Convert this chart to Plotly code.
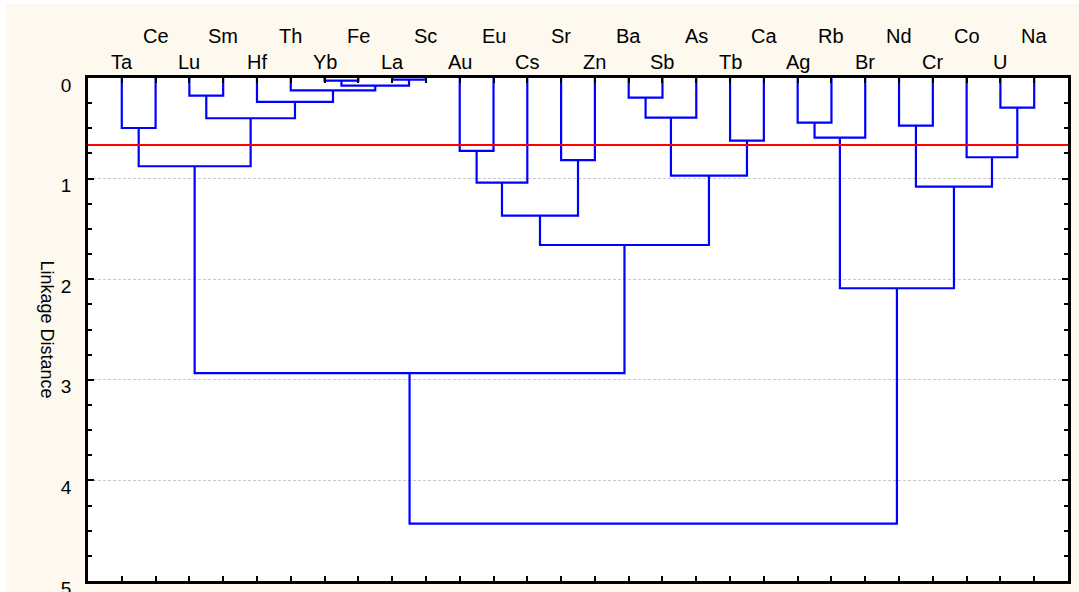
import plotly.graph_objects as go

# ---------------- data ----------------
LEAVES = ["Ta", "Ce", "Lu", "Sm", "Hf", "Th", "Yb", "Fe", "La", "Sc",
          "Au", "Eu", "Cs", "Sr", "Zn", "Ba", "Sb", "As", "Tb", "Ca",
          "Ag", "Rb", "Br", "Nd", "Cr", "Co", "U", "Na"]

# linkage (scipy-like ids: leaves 0..27, merge k gets id 28+k)
MERGE_A = [8, 6, 29, 5, 2, 15, 4, 26, 33, 32, 20, 23, 0, 38, 18, 10, 25, 13,
           40, 36, 43, 39, 48, 50, 41, 46, 53]
MERGE_B = [9, 7, 28, 30, 3, 16, 31, 27, 17, 34, 21, 24, 1, 22, 19, 11, 35, 14,
           37, 42, 12, 44, 45, 47, 49, 51, 52]
MERGE_H = [0.017, 0.026, 0.076, 0.123, 0.175, 0.195, 0.238, 0.295, 0.394, 0.400,
           0.444, 0.474, 0.497, 0.592, 0.622, 0.724, 0.788, 0.816, 0.877, 0.970,
           1.040, 1.080, 1.368, 1.660, 2.090, 2.933, 4.430]

CUTOFF = 0.667
Y_TICKS = [0, 1, 2, 3, 4, 5]
Y_TITLE = "Linkage Distance"

# ---------------- style ----------------
FONT = "Liberation Sans, Arial, sans-serif"
CREAM = "#FDF9EE"
W, H = 1079, 592
ML, MR, MT, MB = 88, 11, 78, 11

n = len(LEAVES)
pos = {i: i + 1 for i in range(n)}
hgt = {i: 0.0 for i in range(n)}
xs, ys = [], []
for k, (a, b, h) in enumerate(zip(MERGE_A, MERGE_B, MERGE_H)):
    xa, xb = pos[a], pos[b]
    xs += [xa, xa, xb, xb, None]
    ys += [hgt[a], h, h, hgt[b], None]
    pos[n + k] = (xa + xb) / 2
    hgt[n + k] = h

fig = go.Figure()
fig.add_trace(go.Scatter(x=xs, y=ys, mode="lines",
                         line=dict(color="#0000FF", width=2.2),
                         hoverinfo="skip", showlegend=False))

plot_h = H - MT - MB
plot_w = W - ML - MR

def py(pix):
    return (H - MB - pix) / plot_h

def px(pix):
    return (pix - ML) / plot_w

annotations = []
for i, name in enumerate(LEAVES):
    yy = py(35.7) if i % 2 == 1 else py(61.7)
    annotations.append(dict(x=i + 1, xref="x", y=yy, yref="paper", text=name,
                            showarrow=False, xanchor="center", yanchor="middle",
                            font=dict(family=FONT, size=20, color="#000000")))
annotations.append(dict(x=px(47), xref="paper", y=0.5, yref="paper", text=Y_TITLE,
                        textangle=90, showarrow=False, xanchor="center",
                        yanchor="middle",
                        font=dict(family=FONT, size=18, color="#000000")))

shapes = [
    dict(type="rect", xref="paper", yref="paper", layer="below",
         x0=px(6), x1=px(W + 20), y0=py(H + 20), y1=py(4),
         fillcolor=CREAM, line=dict(width=0)),
    dict(type="rect", xref="x domain", yref="y domain", layer="below",
         x0=0, x1=1, y0=0, y1=1, fillcolor="#FFFFFF", line=dict(width=0)),
    dict(type="line", xref="x domain", yref="y", x0=0, x1=1,
         y0=CUTOFF, y1=CUTOFF, line=dict(color="#FF0000", width=2)),
]

fig.update_layout(
    width=W, height=H,
    margin=dict(l=ML, r=MR, t=MT, b=MB, pad=0, autoexpand=False),
    paper_bgcolor="#FFFFFF", plot_bgcolor="#FFFFFF",
    showlegend=False,
    annotations=annotations,
    shapes=shapes,
    xaxis=dict(range=[0, n + 1], tickvals=list(range(1, n + 1)),
               ticks="inside", ticklen=5, tickwidth=2, tickcolor="#000000",
               showticklabels=False, showgrid=False, zeroline=False,
               showline=True, linecolor="#000000", linewidth=2.5,
               mirror="allticks", fixedrange=True, automargin=False),
    yaxis=dict(range=[Y_TICKS[-1], Y_TICKS[0]], tickvals=Y_TICKS,
               ticks="inside", ticklen=6, tickwidth=2, tickcolor="#000000",
               minor=dict(dtick=0.25, ticks="inside", ticklen=4, tickwidth=2,
                          tickcolor="#000000", showgrid=False),
               showgrid=True, gridcolor="#C8C8C8", gridwidth=1, griddash="3px,2px",
               zeroline=False, showline=True, linecolor="#000000", linewidth=2.5,
               mirror="allticks", ticklabelstandoff=10, ticklabelshift=-7,
               ticklabeloverflow="allow", automargin=False,
               tickfont=dict(family=FONT, size=19, color="#000000"),
               fixedrange=True),
)

fig.write_html("out.html", config={"displayModeBar": False},
               post_script="document.body.style.margin='0';")
